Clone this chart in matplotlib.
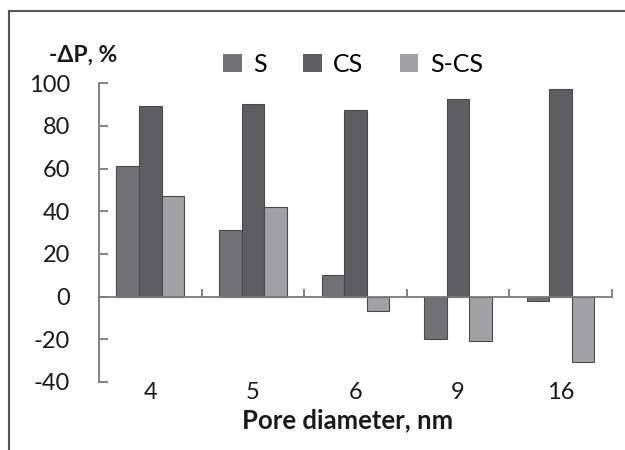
import numpy as np
import matplotlib
matplotlib.use("Agg")
import matplotlib.pyplot as plt
from matplotlib.lines import Line2D
import matplotlib.transforms as mtransforms

plt.rcParams['font.family'] = ['Lato', 'DejaVu Sans']

categories = ["4", "5", "6", "9", "16"]
s_vals = [61.3, 31.3, 10.3, -19.8, -1.9]
cs_vals = [89.4, 90.5, 87.7, 92.8, 97.4]
scs_vals = [47.2, 42.0, -6.6, -20.8, -30.6]
series_names = ["S", "CS", "S-CS"]
colors = ["#727274", "#5e5e61", "#a2a2a4"]
y_ticks = [-40, -20, 0, 20, 40, 60, 80, 100]

fig = plt.figure(figsize=(6.25, 4.5), dpi=100)
ax = fig.add_axes([99/625, 1 - 382/450, (611.7 - 99)/625, (382 - 83.3)/450])

x = np.arange(len(categories))
w = 0.22
for i, (vals, name, c) in enumerate(zip([s_vals, cs_vals, scs_vals], series_names, colors)):
    ax.bar(x + (i - 1) * w, vals, width=w, color=c, edgecolor="#4a4a4c",
           linewidth=0.8, label=name, zorder=2)

ax.set_xlim(-0.5, len(categories) - 0.5)
ax.set_ylim(-40, 100)
ax.set_yticks(y_ticks)
ax.set_yticklabels([str(t) for t in y_ticks])

for sp in ["top", "right"]:
    ax.spines[sp].set_visible(False)
ax.spines["left"].set_color("#7a7a7a")
ax.spines["left"].set_linewidth(1.3)
ax.spines["bottom"].set_position(("data", 0))
ax.spines["bottom"].set_color("#7a7a7a")
ax.spines["bottom"].set_linewidth(1.3)
ax.spines["bottom"].set_zorder(3)

ax.tick_params(axis="y", direction="in", length=6.5, width=1.3, color="#7a7a7a",
               labelsize=17, labelcolor="#1a1a1a", pad=21)
bounds = np.arange(len(categories) + 1) - 0.5
ax.set_xticks(bounds[1:], minor=True)
ax.set_xticks([])
ax.tick_params(axis="x", which="minor", direction="in", length=5.5, width=1.3,
               color="#7a7a7a", labelbottom=False)

trans = mtransforms.blended_transform_factory(ax.transData, ax.transAxes)
for xi, lab in zip(x, categories):
    ax.text(xi, 0, lab, transform=trans, ha="center", va="top", fontsize=17,
            color="#1a1a1a")

fig.text(348/625, 1 - 428.5/450, "Pore diameter, nm", ha="center", va="baseline",
         fontsize=18.5, fontweight="bold", color="#1a1a1a")
fig.text(83/625, 1 - 55/450, "-ΔP, %", ha="center", va="center", fontsize=16.5,
         fontweight="bold", color="#1a1a1a")

leg = ax.legend(loc="center", bbox_to_anchor=(353/625, 1 - 64/450),
                bbox_transform=fig.transFigure, ncol=3, frameon=False,
                fontsize=18, handlelength=0.75, handleheight=0.75,
                handletextpad=0.45, columnspacing=1.45, borderaxespad=0)
for h in leg.legend_handles:
    h.set_edgecolor("none")

fig.add_artist(Line2D([9/625, 9/625], [0, 1 - 11/450], transform=fig.transFigure,
                      color="#555555", linewidth=1.5))
fig.add_artist(Line2D([9/625, 1], [1 - 11/450, 1 - 11/450], transform=fig.transFigure,
                      color="#555555", linewidth=1.5))

fig.savefig("out.png", dpi=100)
